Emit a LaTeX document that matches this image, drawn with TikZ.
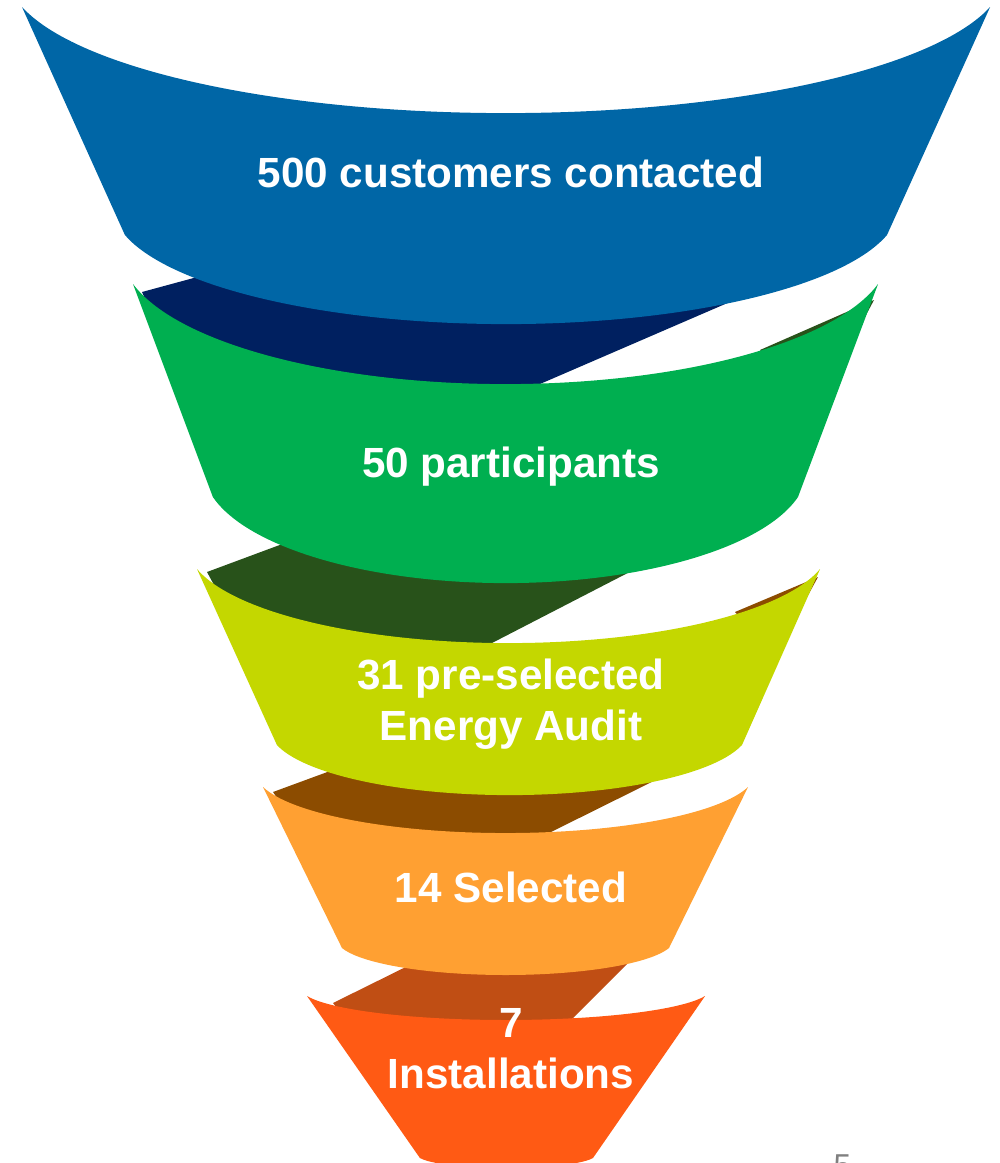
\documentclass[tikz,border=0pt]{standalone}
\usepackage{fontspec}
\setmainfont{Liberation Sans}
\definecolor{bandblue}{HTML}{0066A6}
\definecolor{backblue}{HTML}{002060}
\definecolor{bandgreen}{HTML}{00AF50}
\definecolor{backgreen}{HTML}{28521A}
\definecolor{bandyellow}{HTML}{C4D700}
\definecolor{backyellow}{HTML}{8C4C00}
\definecolor{bandorange}{HTML}{FFA032}
\definecolor{backorange}{HTML}{C04E14}
\definecolor{bandred}{HTML}{FF5A14}
\begin{document}
\begin{tikzpicture}[x=0.01cm, y=-0.01cm,
    lbl/.style={text=white, font=\fontsize{12}{14.5}\selectfont\bfseries, align=center, inner sep=0pt, anchor=base}]
    \useasboundingbox (0,0) rectangle (999,1163);
    % backs of the bands
    \fill[backblue] (142,292) -- (260,260) -- (827,260) -- (540,384) -- (540,420) -- (200,420) -- cycle;
    \fill[backgreen] (207,572) -- (320,530) -- (711,530) -- (492,643) -- (492,670) -- (260,670) -- cycle;
    \fill[backgreen] (760,350) -- (874,300) -- (858,330) -- (790,380) -- cycle;
    \fill[backyellow] (273,792) -- (360,760) -- (696,760) -- (547,834) -- (547,860) -- (320,860) -- cycle;
    \fill[backyellow] (735,612) -- (818,577) -- (800,610) -- (760,640) -- cycle;
    \fill[backorange] (333,1003) -- (430,955) -- (646,945) -- (570,1021) -- (570,1050) -- (370,1050) -- cycle;
    % bands
    \fill[bandblue] (22,7) arc[start angle=165.5, end angle=14.5, x radius=500, y radius=141.5]
        -- (887,235) arc[start angle=14.5, end angle=165.5, x radius=393.6, y radius=118.8] -- cycle;
    \fill[bandgreen] (133,284) arc[start angle=165.5, end angle=14.5, x radius=384.8, y radius=133.5]
        -- (798,497) arc[start angle=14.5, end angle=165.5, x radius=302.2, y radius=114.8] -- cycle;
    \fill[bandyellow] (197,569) arc[start angle=165.5, end angle=14.5, x radius=321.8, y radius=98.8]
        -- (742,745) arc[start angle=14.5, end angle=165.5, x radius=240.2, y radius=66.8] -- cycle;
    \fill[bandorange] (263,787) arc[start angle=165.5, end angle=14.5, x radius=250.5, y radius=61.4]
        -- (669,948) arc[start angle=14.5, end angle=165.5, x radius=168.9, y radius=36] -- cycle;
    \fill[bandred] (307,996) arc[start angle=165.5, end angle=14.5, x radius=205.6, y radius=32]
        -- (593,1158) arc[start angle=14.5, end angle=165.5, x radius=89.4, y radius=13.4] -- cycle;
    % labels (base = last line)
    \node[lbl] (contacted) at (511,187) {500 customers contacted};
    \node[lbl] (participants) at (511,477) {50 participants};
    \node[lbl] (preselected) at (511,740) {31 pre-selected\\Energy Audit};
    \node[lbl] (selected) at (511,902) {14 Selected};
    \node[lbl] (installations) at (511,1088) {7\\Installations};
    \node[text=gray, font=\fontsize{9}{9}\selectfont, inner sep=0pt, anchor=north west] (pagenum) at (833,1154) {5};
\end{tikzpicture}
\end{document}
